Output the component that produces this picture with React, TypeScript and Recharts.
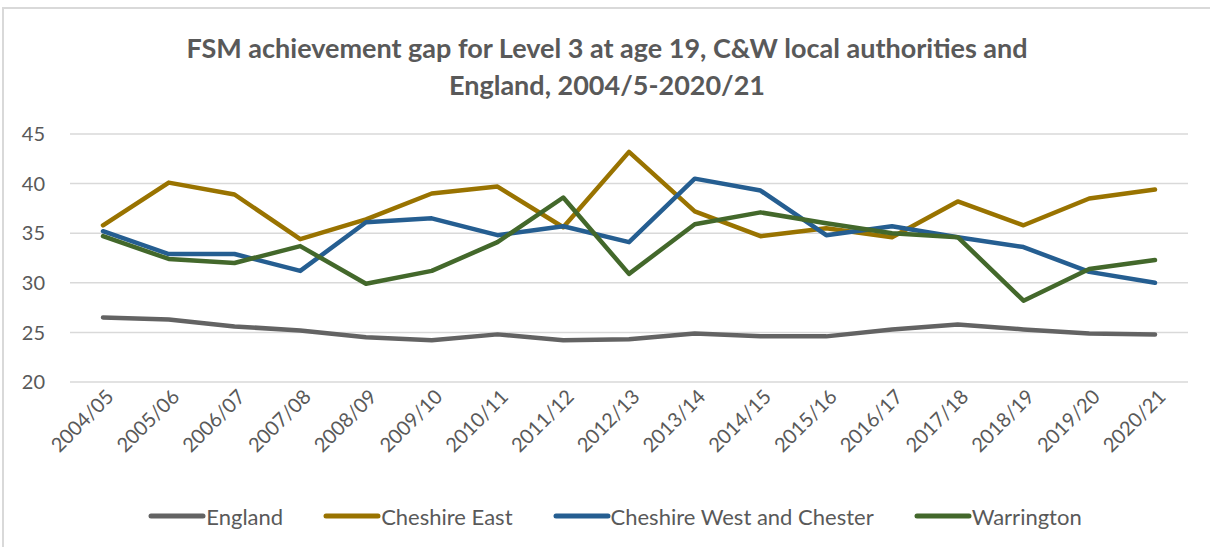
import { CartesianGrid, Legend, Line, LineChart, XAxis, YAxis } from 'recharts';

const years = [
  '2004/05', '2005/06', '2006/07', '2007/08', '2008/09', '2009/10', '2010/11', '2011/12', '2012/13',
  '2013/14', '2014/15', '2015/16', '2016/17', '2017/18', '2018/19', '2019/20', '2020/21',
];

const england = [26.5, 26.3, 25.6, 25.2, 24.5, 24.2, 24.8, 24.2, 24.3, 24.9, 24.6, 24.6, 25.3, 25.8, 25.3, 24.9, 24.8];
const cheshireEast = [35.8, 40.1, 38.9, 34.4, 36.4, 39.0, 39.7, 35.6, 43.2, 37.2, 34.7, 35.5, 34.6, 38.2, 35.8, 38.5, 39.4];
const cheshireWest = [35.2, 32.9, 32.9, 31.2, 36.1, 36.5, 34.8, 35.7, 34.1, 40.5, 39.3, 34.8, 35.7, 34.6, 33.6, 31.1, 30.0];
const warrington = [34.7, 32.4, 32.0, 33.7, 29.9, 31.2, 34.1, 38.6, 30.9, 35.9, 37.1, 36.0, 35.0, 34.6, 28.2, 31.4, 32.3];

const yTicks = [20, 25, 30, 35, 40, 45];

const series = [
  { key: 'england', name: 'England', color: '#636363' },
  { key: 'cheshireEast', name: 'Cheshire East', color: '#997300' },
  { key: 'cheshireWest', name: 'Cheshire West and Chester', color: '#255E91' },
  { key: 'warrington', name: 'Warrington', color: '#43682B' },
];

const FONT = "Lato, 'Open Sans', 'Liberation Sans', sans-serif";
const TEXT = '#595959';

const data = years.map((year, i) => ({
  year,
  england: england[i],
  cheshireEast: cheshireEast[i],
  cheshireWest: cheshireWest[i],
  warrington: warrington[i],
}));

function YearTick(props: any) {
  const { x, y, payload } = props;
  return (
    <g transform={`translate(${x + 12},${y + 8})`}>
      <text
        x={0}
        y={0}
        textAnchor='end'
        fill={TEXT}
        fontSize={20}
        fontFamily={FONT}
        transform='rotate(-45)'
      >
        {payload.value}
      </text>
    </g>
  );
}

function LegendRow() {
  return (
    <div
      style={{
        display: 'flex',
        justifyContent: 'center',
        alignItems: 'center',
        height: 30,
        paddingLeft: 38,
        fontFamily: FONT,
        fontSize: 22,
        color: TEXT,
      }}
    >
      {series.map((s) => (
        <div key={s.key} style={{ display: 'flex', alignItems: 'center', margin: '0 20px' }}>
          <svg width={58} height={8}>
            <line x1={3} y1={4} x2={55} y2={4} stroke={s.color} strokeWidth={5} strokeLinecap='round' />
          </svg>
          <span>{s.name}</span>
        </div>
      ))}
    </div>
  );
}

export default function App() {
  return (
    <div
      style={{
        position: 'absolute',
        left: 2,
        top: 7,
        width: 1206,
        height: 538,
        borderTop: '2px solid #d9d9d9',
        borderLeft: '2px solid #d9d9d9',
        background: '#fff',
      }}
    >
      <div
        style={{
          position: 'absolute',
          left: 0,
          top: 20,
          width: 1206,
          textAlign: 'center',
          fontFamily: FONT,
          fontWeight: 'bold',
          fontSize: 27,
          lineHeight: '37px',
          color: TEXT,
        }}
      >
        FSM achievement gap for Level 3 at age 19, C&amp;W local authorities and
        <br />
        England, 2004/5-2020/21
      </div>
      <LineChart
        width={1206}
        height={538}
        data={data}
        margin={{ top: 125, right: 22, left: 0, bottom: 35 }}
      >
        <CartesianGrid vertical={false} stroke='#d9d9d9' strokeWidth={1.5} />
        <XAxis
          dataKey='year'
          interval={0}
          height={100}
          padding={{ left: 33, right: 33 }}
          axisLine={false}
          tickLine={false}
          tick={<YearTick />}
        />
        <YAxis
          width={66}
          domain={[20, 45]}
          ticks={yTicks}
          axisLine={false}
          tickLine={false}
          tickMargin={19}
          tick={{ fill: TEXT, fontSize: 20, fontFamily: FONT }}
        />
        <Legend
          verticalAlign='bottom'
          content={<LegendRow />}
          wrapperStyle={{ top: 492, bottom: 'auto', height: 30 }}
        />
        {series.map((s) => (
          <Line
            key={s.key}
            dataKey={s.key}
            name={s.name}
            stroke={s.color}
            strokeWidth={4.5}
            strokeLinecap='round'
            strokeLinejoin='round'
            dot={false}
            activeDot={false}
            isAnimationActive={false}
          />
        ))}
      </LineChart>
    </div>
  );
}
